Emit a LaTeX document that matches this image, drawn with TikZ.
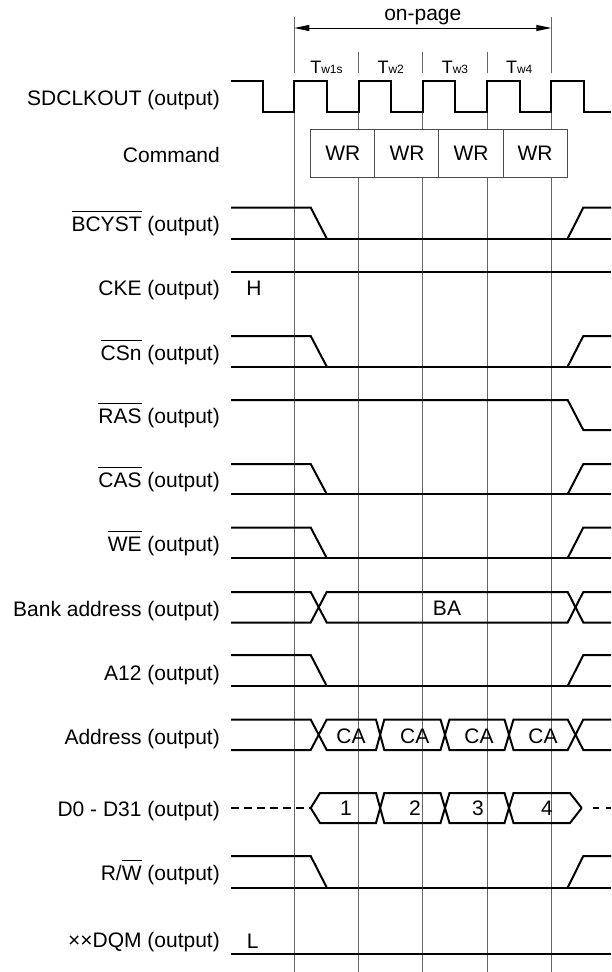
\documentclass[tikz,border=0pt]{standalone}
\usepackage{fontspec}
\setmainfont{Liberation Sans}
\usetikzlibrary{arrows.meta}
\newcommand{\ovl}[1]{$\overline{\mbox{\rule{0pt}{0.9em}#1}}$}

\begin{document}
\begin{tikzpicture}[x=1pt,y=-1pt,
    sig/.style={line width=2pt,line join=miter},
    grd/.style={line width=1pt,black!60},
    lbl/.style={anchor=base east,inner sep=0pt,font=\fontsize{21}{25}\selectfont},
    val/.style={inner sep=0pt,font=\fontsize{21}{25}\selectfont},
    cmdbox/.style={val,draw=black!70,line width=1pt,fill=white,
                   minimum width=64.2pt,minimum height=48pt},
    dashline/.style={sig,dash pattern=on 7.5pt off 5.5pt},
    optip/.tip={Triangle[length=15pt,width=6pt]}]%{{{
\useasboundingbox (0,0) rectangle (611,972);
%
% Grille
\foreach \x in {294.3,551.3} \draw [grd] (\x,17) -- (\x,73);
\foreach \x in {358.6,422.8,487.1} \draw [grd] (\x,51.7) -- (\x,73);
\foreach \x in {294.3,358.6,422.8,487.1,551.3} \draw [grd] (\x,112) -- (\x,972);
%
% on-page
\coordinate (op-l) at (294.3,28);
\coordinate (op-r) at (551.3,28);
\draw [line width=1pt,optip-optip] (op-l) -- (op-r);
\node [val,anchor=base] (onpage) at (422.8,20) {on-page};
%
% Tw
\foreach \x/\s in {326.5/w1s,390.7/w2,455/w3,519.2/w4}
  \node [anchor=base,inner sep=0pt] (t\s) at (\x,73.3)
        {\fontsize{18}{20}\selectfont T\fontsize{12}{14}\selectfont\s};
%
% Noms des signaux
\node [lbl] (l-clk)  at (220,105)   {SDCLKOUT (output)};
\node [lbl] (l-cmd)  at (220,162.7) {Command};
\node [lbl] (l-bcy)  at (220,231.7) {\ovl{BCYST} (output)};
\node [lbl] (l-cke)  at (220,295.7) {CKE (output)};
\node [lbl] (l-cs)   at (220,360)   {\ovl{CSn} (output)};
\node [lbl] (l-ras)  at (220,423.3) {\ovl{RAS} (output)};
\node [lbl] (l-cas)  at (220,487.7) {\ovl{CAS} (output)};
\node [lbl] (l-we)   at (220,551.7) {\ovl{WE} (output)};
\node [lbl] (l-bank) at (220,616)   {Bank address (output)};
\node [lbl] (l-a12)  at (220,680)   {A12 (output)};
\node [lbl] (l-addr) at (220,744)   {Address (output)};
\node [lbl] (l-data) at (220,816.7) {D0 - D31 (output)};
\node [lbl] (l-rw)   at (220,880.7) {R/\ovl{W} (output)};
\node [lbl] (l-dqm)  at (220,947.3) {××DQM (output)};
%
% SDCLKOUT
\draw [sig] (231,80.5)
  \foreach \k in {0,...,4} {
    -- (262.7+64.25*\k,80.5) -- (262.7+64.25*\k,111.5)
    -- (294.3+64.25*\k,111.5) -- (294.3+64.25*\k,80.5) }
  -- (583.95,80.5) -- (583.95,111.5) -- (611,111.5);
%
% Command
\foreach \x/\n in {342.85/1,407/2,471/3,535.15/4}
  \node [cmdbox] (wr\n) at (\x,153.3) {WR};
%
% Descente / montee
\foreach \h/\l in {207.5/238.5,336/366.5,464/494,527.5/558,655/686,856/887.5} {
  \draw [sig] (231,\h) -- (310.7,\h) -- (326.7,\l);
  \draw [sig] (231,\l) -- (611,\l);
  \draw [sig] (567.7,\l) -- (583.3,\h) -- (611,\h);
}
%
% CKE, RAS, DQM
\draw [sig] (231,272) -- (611,272);
\node [val] (h) at (254,288.7) {H};
\draw [sig] (231,400) -- (567.7,400) -- (583.3,430) -- (611,430);
\draw [sig] (231,954) -- (611,954);
\node [val] (l) at (252.7,941.7) {L};
%
% Bank address
\draw [sig] (231,592) -- (310.7,592) -- (326.7,622.5) -- (567.7,622.5)
         -- (583.3,592) -- (611,592);
\draw [sig] (231,622.5) -- (310.7,622.5) -- (326.7,592) -- (567.7,592)
         -- (583.3,622.5) -- (611,622.5);
\node [val] (ba) at (447,608.3) {BA};
%
% Address
\draw [sig] (231,719.5) -- (310.7,719.5) -- (326.7,750) -- (376,750)
         -- (384.3,719.5) -- (440.5,719.5) -- (449.5,750) -- (504.5,750)
         -- (513.5,719.5) -- (567.7,719.5) -- (583.3,750) -- (611,750);
\draw [sig] (231,750) -- (310.7,750) -- (326.7,719.5) -- (376,719.5)
         -- (384.3,750) -- (440.5,750) -- (449.5,719.5) -- (504.5,719.5)
         -- (513.5,750) -- (567.7,750) -- (583.3,719.5) -- (611,719.5);
\foreach \x/\n in {351/1,414.7/2,479/3,543/4}
  \node [val] (ca\n) at (\x,736) {CA};
%
% D0 - D31
\draw [dashline] (231,808) -- (310.7,808);
\draw [sig] (310.7,808) -- (320,793) -- (376,793) -- (384.3,823)
         -- (440.5,823) -- (449.5,793) -- (504.5,793) -- (513.5,823)
         -- (570,823) -- (581.7,808);
\draw [sig] (310.7,808) -- (320,823) -- (376,823) -- (384.3,793)
         -- (440.5,793) -- (449.5,823) -- (504.5,823) -- (513.5,793)
         -- (570,793) -- (581.7,808);
\draw [sig,dash pattern=on 6pt off 7pt] (593,808) -- (611,808);
\foreach \x/\n in {346/1,415/2,478/3,547/4}
  \node [val] (d\n) at (\x,808.2) {\n};
%
\end{tikzpicture}
\end{document}
